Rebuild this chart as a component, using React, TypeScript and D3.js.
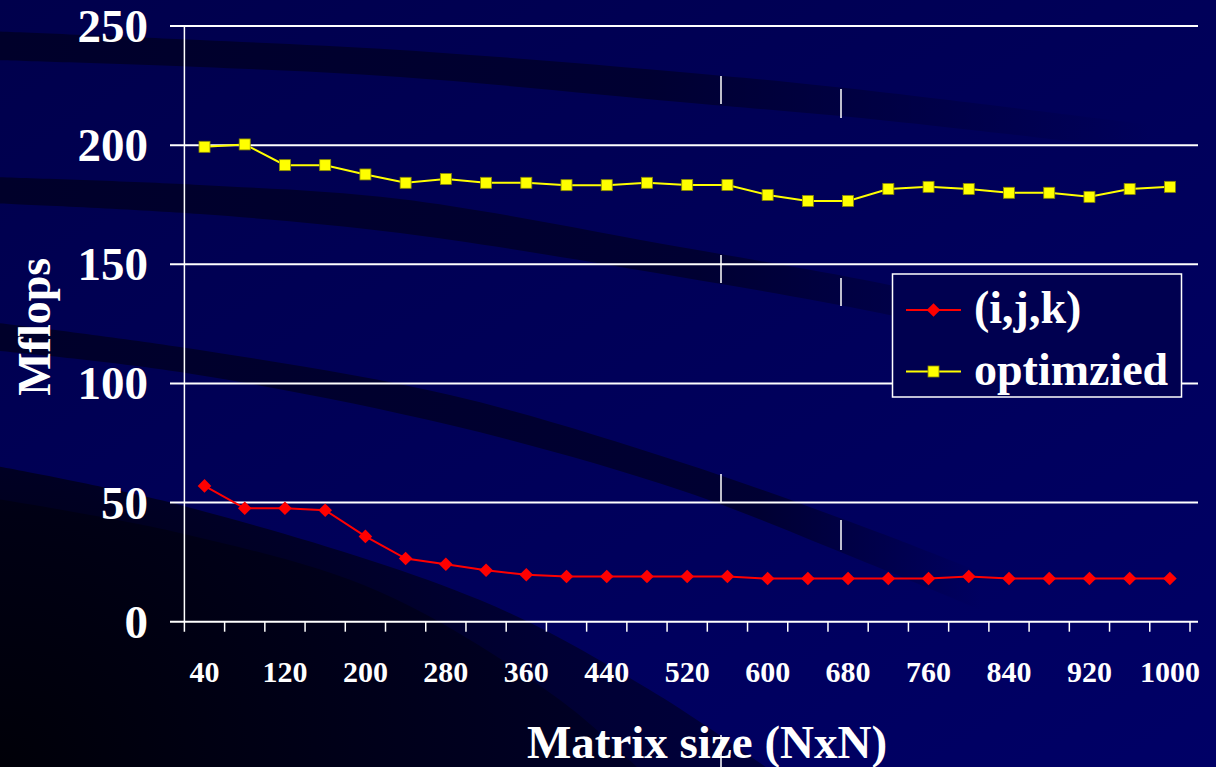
import React from "react";
import * as d3 from "d3";

// Matrix sizes (N for an NxN matrix) and measured throughput in Mflops
const sizes = [40, 80, 120, 160, 200, 240, 280, 320, 360, 400, 440, 480, 520, 560, 600, 640, 680, 720, 760, 800, 840, 880, 920, 960, 1000];
const ijkMflops = [57, 47.6, 47.6, 46.8, 35.8, 26.5, 24.1, 21.6, 19.7, 19, 19, 19, 19, 19, 18.1, 18.1, 18.1, 18.1, 18.1, 19, 18.1, 18.1, 18.1, 18.1, 18.1];
const optimizedMflops = [199.3, 200.3, 191.6, 191.6, 187.7, 184.2, 185.8, 184.2, 184.2, 183.2, 183.2, 184.2, 183.3, 183.3, 179.1, 176.6, 176.6, 181.6, 182.5, 181.6, 180, 180, 178.3, 181.6, 182.5];
const yTicks = [0, 50, 100, 150, 200, 250];
const xTickLabels = [40, 120, 200, 280, 360, 440, 520, 600, 680, 760, 840, 920, 1000];
const seriesNames = ["(i,j,k)", "optimzied"];

const W = 1216;
const H = 767;
const FONT = "'Liberation Serif', 'Times New Roman', serif";

// Decorative curved stripes of the slide background: [top edge, bottom edge]
const stripes: { top: [number, number][]; bottom: [number, number][]; fadeFrom: number; fadeTo: number }[] = [
  {
    top: [[-10, 31], [200, 40], [400, 50], [680, 72], [880, 92], [1230, 135]],
    bottom: [[-10, 60], [200, 67], [400, 77], [680, 102], [880, 120], [1230, 160]],
    fadeFrom: 650, fadeTo: 1150,
  },
  {
    top: [[-10, 177], [200, 185], [400, 199], [680, 247], [880, 283], [1100, 330]],
    bottom: [[-10, 203], [200, 214], [400, 233], [680, 277], [880, 313], [1100, 362]],
    fadeFrom: 700, fadeTo: 1080,
  },
  {
    top: [[-10, 322], [180, 347], [450, 395], [680, 462], [880, 533], [1000, 580]],
    bottom: [[-10, 350], [180, 372], [450, 425], [680, 490], [860, 560], [1000, 618]],
    fadeFrom: 760, fadeTo: 980,
  },
];

// Dark corner wash in the lower left of the slide
const cornerOuter: [number, number][] = [[-10, 465], [180, 505], [480, 600], [650, 690], [770, 770]];
const cornerInner: [number, number][] = [[-10, 498], [180, 533], [380, 592], [560, 700], [640, 770]];

// Thin white slivers that sit on the slide background
const slivers: [number, number, number][] = [
  [721, 76, 104], [841, 89, 118],
  [721, 255, 283], [841, 278, 306],
  [721, 474, 503], [841, 520, 550],
  [721, 735, 767],
];

export default function App() {
  const left = 184.4;
  const right = 1190;
  const top = 26;
  const bottom = 621.7;

  const x = d3.scaleBand<number>().domain(sizes).range([left, right]).padding(0);
  const y = d3.scaleLinear().domain([0, 250]).range([bottom, top]);
  const cx = (s: number) => (x(s) as number) + x.bandwidth() / 2;

  const smooth = d3.line<[number, number]>().x(d => d[0]).y(d => d[1]).curve(d3.curveCatmullRom);
  const stripePath = (topPts: [number, number][], botPts: [number, number][]) => {
    const a = smooth(topPts) as string;
    const b = (smooth([...botPts].reverse()) as string).replace(/^M/, "L");
    return a + b + "Z";
  };
  const cornerPath = (pts: [number, number][]) =>
    (smooth(pts) as string) + `L-10,770Z`;

  const seriesLine = d3.line<number>().x((_, i) => cx(sizes[i])).y(v => y(v));

  const diamond = (px: number, py: number, r: number) =>
    `M${px},${py - r}L${px + r},${py}L${px},${py + r}L${px - r},${py}Z`;

  const gridRight = 1198;

  return (
    <svg width={W} height={H} style={{ position: "absolute", left: 0, top: 0, display: "block" }}>
      <defs>
        <linearGradient id="bg" x1="0" y1="0" x2="1" y2="1">
          <stop offset="0" stopColor="#00004c" />
          <stop offset="1" stopColor="#000066" />
        </linearGradient>
        {stripes.map((s, i) => (
          <linearGradient key={i} id={`stripe${i}`} gradientUnits="userSpaceOnUse" x1={0} y1={0} x2={W} y2={0}>
            <stop offset={0} stopColor="#00002a" stopOpacity={1} />
            <stop offset={s.fadeFrom / W} stopColor="#00002e" stopOpacity={0.9} />
            <stop offset={Math.min(1, s.fadeTo / W)} stopColor="#000030" stopOpacity={0} />
          </linearGradient>
        ))}
        <radialGradient id="corner" gradientUnits="userSpaceOnUse" cx={0} cy={767} r={700}>
          <stop offset="0" stopColor="#000008" />
          <stop offset="0.6" stopColor="#00001c" />
          <stop offset="1" stopColor="#00002a" />
        </radialGradient>
        <radialGradient id="corner2" gradientUnits="userSpaceOnUse" cx={0} cy={767} r={800}>
          <stop offset="0" stopColor="#000010" />
          <stop offset="0.7" stopColor="#000034" />
          <stop offset="1" stopColor="#00003c" />
        </radialGradient>
      </defs>

      {/* slide background */}
      <rect x={0} y={0} width={W} height={H} fill="url(#bg)" />
      {stripes.map((s, i) => (
        <path key={i} d={stripePath(s.top, s.bottom)} fill={`url(#stripe${i})`} />
      ))}
      <path d={cornerPath(cornerOuter)} fill="url(#corner2)" />
      <path d={cornerPath(cornerInner)} fill="url(#corner)" />
      {slivers.map(([sx, y1, y2], i) => (
        <line key={i} x1={sx} x2={sx} y1={y1} y2={y2} stroke="#ffffff" strokeWidth={1.5} />
      ))}

      {/* horizontal gridlines with outward ticks */}
      {yTicks.map(t => (
        <line key={t} x1={170} x2={gridRight} y1={y(t)} y2={y(t)} stroke="#ffffff" strokeWidth={2} />
      ))}
      {/* y axis */}
      <line x1={left} x2={left} y1={top} y2={bottom + 10} stroke="#ffffff" strokeWidth={1.5} />
      {/* x axis category ticks */}
      {sizes.map(s => (
        <line key={s} x1={(x(s) as number) + x.bandwidth()} x2={(x(s) as number) + x.bandwidth()} y1={bottom} y2={bottom + 10} stroke="#ffffff" strokeWidth={1.5} />
      ))}

      {/* y tick labels */}
      {yTicks.map(t => (
        <text key={t} x={148} y={y(t) + 16} textAnchor="end" fontFamily={FONT} fontWeight="bold" fontSize={47} fill="#ffffff">
          {t}
        </text>
      ))}
      {/* x tick labels */}
      {xTickLabels.map(s => (
        <text key={s} x={cx(s)} y={681.5} textAnchor="middle" fontFamily={FONT} fontWeight="bold" fontSize={30} fill="#ffffff">
          {s}
        </text>
      ))}

      {/* axis titles */}
      <text transform={`translate(50,${(top + bottom) / 2 + 3}) rotate(-90)`} textAnchor="middle" fontFamily={FONT} fontWeight="bold" fontSize={46} fill="#ffffff">
        Mflops
      </text>
      <text x={707} y={758} textAnchor="middle" fontFamily={FONT} fontWeight="bold" fontSize={47} fill="#ffffff">
        Matrix size (NxN)
      </text>

      {/* optimized series */}
      <path d={seriesLine(optimizedMflops) as string} fill="none" stroke="#ffff00" strokeWidth={2} />
      {optimizedMflops.map((v, i) => (
        <rect key={i} x={cx(sizes[i]) - 5.5} y={y(v) - 5.5} width={11} height={11} fill="#ffff00" stroke="#8a8a00" strokeWidth={0.8} />
      ))}

      {/* (i,j,k) series */}
      <path d={seriesLine(ijkMflops) as string} fill="none" stroke="#ff0000" strokeWidth={2} />
      {ijkMflops.map((v, i) => (
        <path key={i} d={diamond(cx(sizes[i]), y(v), 6.8)} fill="#ff0000" />
      ))}

      {/* legend */}
      <rect x={892.5} y={274} width={289} height={123} fill="#000050" stroke="#ffffff" strokeWidth={1.5} />
      <line x1={906} x2={961} y1={310} y2={310} stroke="#ff0000" strokeWidth={2} />
      <path d={diamond(933.5, 310, 6.8)} fill="#ff0000" />
      <text x={974} y={323} fontFamily={FONT} fontWeight="bold" fontSize={46} fill="#ffffff">
        {seriesNames[0]}
      </text>
      <line x1={906} x2={961} y1={371.5} y2={371.5} stroke="#ffff00" strokeWidth={2} />
      <rect x={928} y={366} width={11} height={11} fill="#ffff00" stroke="#8a8a00" strokeWidth={0.8} />
      <text x={974} y={385} fontFamily={FONT} fontWeight="bold" fontSize={46} fill="#ffffff">
        {seriesNames[1]}
      </text>
    </svg>
  );
}
